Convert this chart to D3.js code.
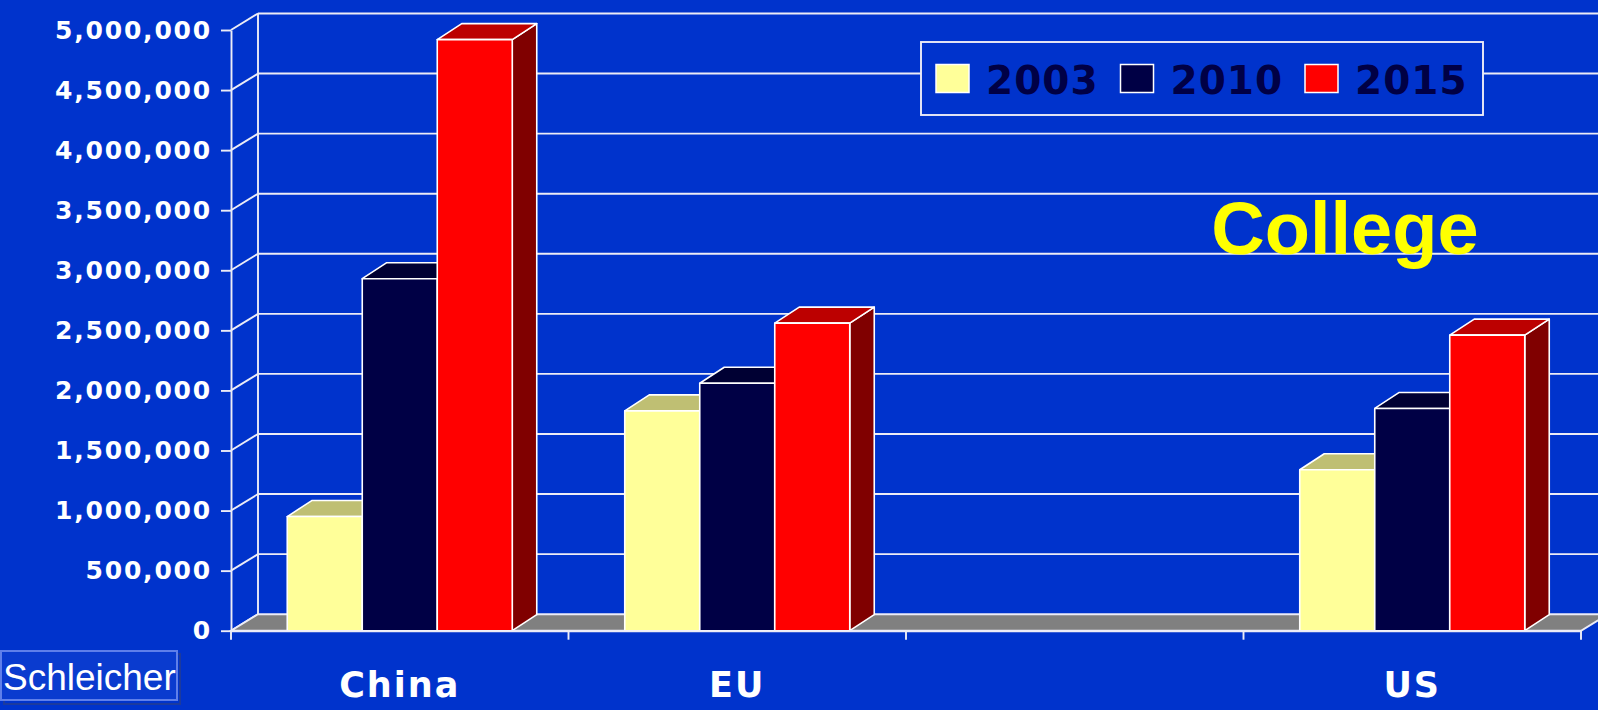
<!DOCTYPE html>
<html>
<head>
<meta charset="utf-8">
<script src="https://cdn.jsdelivr.net/npm/d3@7"></script>
<style>
  html, body { margin: 0; padding: 0; background: #0033CC; overflow: hidden; }
  svg { display: block; }
</style>
</head>
<body>
<svg id="chart" width="1598" height="710"></svg>
<script>
// ---- data ----
const categories = ["China", "EU", "", "US"];
const years = ["2003", "2010", "2015"];
const values2003 = [950000, 1830000, null, 1340000];
const values2010 = [2930000, 2060000, null, 1850000];
const values2015 = [4920000, 2560000, null, 2460000];
const yTicks = [0, 500000, 1000000, 1500000, 2000000, 2500000, 3000000, 3500000, 4000000, 4500000, 5000000];
const titleText = "College";
const footerText = "Schleicher";

// ---- styling ----
const W = 1598, H = 710;
const bg = "#0033CC";
const colors = {
  "2003": { front: "#FFFF99", top: "#BFBF73", side: "#9C9C5C" },
  "2010": { front: "#000045", top: "#000033", side: "#00002A" },
  "2015": { front: "#FF0000", top: "#BC0000", side: "#800000" }
};
const wallDepth = { dx: 27, dy: -16.5 };
const barDepth = { dx: 24.5, dy: -16 };
const plot = { left: 231, right: 1581, bottom: 630.7, top: 30 };

const svg = d3.select("#chart");
svg.append("rect").attr("width", W).attr("height", H).attr("fill", bg);

const y = d3.scaleLinear().domain([0, 5000000]).range([plot.bottom, plot.top]);
const x = d3.scaleBand().domain(categories).range([plot.left, plot.right]);
const bw = x.bandwidth();
const xs = d3.scaleBand().domain(years).range([bw / 6, bw * 5 / 6]);

const gridColor = "#ECECF6";
const gw = 1.9;

// back wall gridlines + left wall diagonals
const grid = svg.append("g");
yTicks.forEach(t => {
  if (t > 0) {
    grid.append("line")
      .attr("x1", plot.left + wallDepth.dx).attr("x2", W)
      .attr("y1", y(t) + wallDepth.dy).attr("y2", y(t) + wallDepth.dy)
      .attr("stroke", gridColor).attr("stroke-width", gw);
  }
  grid.append("line")
    .attr("x1", plot.left).attr("y1", y(t))
    .attr("x2", plot.left + wallDepth.dx).attr("y2", y(t) + wallDepth.dy)
    .attr("stroke", gridColor).attr("stroke-width", gw);
});
grid.append("line")
  .attr("x1", plot.left + wallDepth.dx).attr("x2", plot.left + wallDepth.dx)
  .attr("y1", y(5000000) + wallDepth.dy).attr("y2", y(0) + wallDepth.dy)
  .attr("stroke", gridColor).attr("stroke-width", gw);

// floor
const fl = [
  [plot.left, y(0)], [plot.right, y(0)],
  [plot.right + wallDepth.dx, y(0) + wallDepth.dy], [plot.left + wallDepth.dx, y(0) + wallDepth.dy]
];
svg.append("polygon")
  .attr("points", fl.map(p => p.join(",")).join(" "))
  .attr("fill", "#808080").attr("stroke", gridColor).attr("stroke-width", gw);

// bars
const series = { "2003": values2003, "2010": values2010, "2015": values2015 };
const bars = svg.append("g");
categories.forEach((c, ci) => {
  years.forEach(yr => {
    const v = series[yr][ci];
    if (v == null) return;
    const x0 = x(c) + xs(yr), w = xs.bandwidth();
    const yt = y(v), yb = y(0);
    const d = barDepth, col = colors[yr];
    const g = bars.append("g").attr("stroke", "#FFFFFF").attr("stroke-width", 1.6).attr("stroke-linejoin", "round");
    g.append("polygon").attr("points", [
      [x0 + w, yb], [x0 + w + d.dx, yb + d.dy], [x0 + w + d.dx, yt + d.dy], [x0 + w, yt]
    ].map(p => p.join(",")).join(" ")).attr("fill", col.side);
    g.append("polygon").attr("points", [
      [x0, yt], [x0 + w, yt], [x0 + w + d.dx, yt + d.dy], [x0 + d.dx, yt + d.dy]
    ].map(p => p.join(",")).join(" ")).attr("fill", col.top);
    g.append("rect").attr("x", x0).attr("y", yt).attr("width", w).attr("height", yb - yt).attr("fill", col.front);
  });
});

// y axis (front)
const yAxis = d3.axisLeft(y).tickValues(yTicks).tickFormat(d3.format(",")).tickSize(10).tickSizeOuter(0).tickPadding(9);
const ya = svg.append("g").attr("transform", `translate(${plot.left},0)`).call(yAxis);
ya.select(".domain").attr("stroke", gridColor).attr("stroke-width", gw);
ya.selectAll(".tick line").attr("stroke", gridColor).attr("stroke-width", gw);
ya.selectAll(".tick text")
  .attr("fill", "#FFFFFF")
  .style("font-family", "'DejaVu Sans', sans-serif")
  .style("font-weight", "bold")
  .style("font-size", "25px")
  .style("letter-spacing", "1.8px");

// x axis (front bottom)
const xAxis = d3.axisBottom(x).tickSize(0).tickPadding(41);
const xa = svg.append("g").attr("transform", `translate(0,${y(0)})`).call(xAxis);
xa.select(".domain").attr("stroke", gridColor).attr("stroke-width", gw);
xa.selectAll(".tick text")
  .attr("fill", "#FFFFFF")
  .style("font-family", "'DejaVu Sans', sans-serif")
  .style("font-weight", "bold")
  .style("font-size", "35px")
  .style("letter-spacing", "2px");
const edges = categories.map(c => x(c)).concat([x(categories[categories.length - 1]) + bw]);
xa.selectAll("line.edge").data(edges).join("line").attr("class", "edge")
  .attr("x1", d => d).attr("x2", d => d).attr("y1", 0).attr("y2", 9)
  .attr("stroke", gridColor).attr("stroke-width", gw);

// legend
const lg = svg.append("g");
lg.append("rect").attr("x", 921).attr("y", 42).attr("width", 562).attr("height", 73)
  .attr("fill", bg).attr("stroke", gridColor).attr("stroke-width", gw);
years.forEach((yr, i) => {
  const lx = 936 + i * 184.5;
  lg.append("rect").attr("x", lx).attr("y", 64.5).attr("width", 33).attr("height", 28)
    .attr("fill", colors[yr].front).attr("stroke", "#FFFFFF").attr("stroke-width", 1.5);
  lg.append("text").attr("x", lx + 50).attr("y", 93.5).text(yr)
    .attr("fill", "#000045")
    .style("font-family", "'DejaVu Sans', sans-serif")
    .style("font-weight", "bold")
    .style("font-size", "39px")
    .style("letter-spacing", "1px");
});

// title label
svg.append("text").attr("x", 1345).attr("y", 254).attr("text-anchor", "middle").text(titleText)
  .attr("fill", "#FFFF00")
  .style("font-family", "'Liberation Sans', Arial, sans-serif")
  .style("font-weight", "bold")
  .style("font-size", "74px");

// footer box
svg.append("rect").attr("x", 4).attr("y", 654).attr("width", 176).attr("height", 50)
  .attr("fill", "none").attr("stroke", "#1C3A9E").attr("stroke-width", 2);
svg.append("rect").attr("x", 1).attr("y", 651).attr("width", 176).attr("height", 49)
  .attr("fill", "#0A3BCF").attr("stroke", "#5F7FEA").attr("stroke-width", 2);
svg.append("text").attr("x", 3).attr("y", 690).text(footerText)
  .attr("fill", "#FFFFFF")
  .style("font-family", "'Liberation Sans', Arial, sans-serif")
  .style("font-size", "37px");
</script>
</body>
</html>
